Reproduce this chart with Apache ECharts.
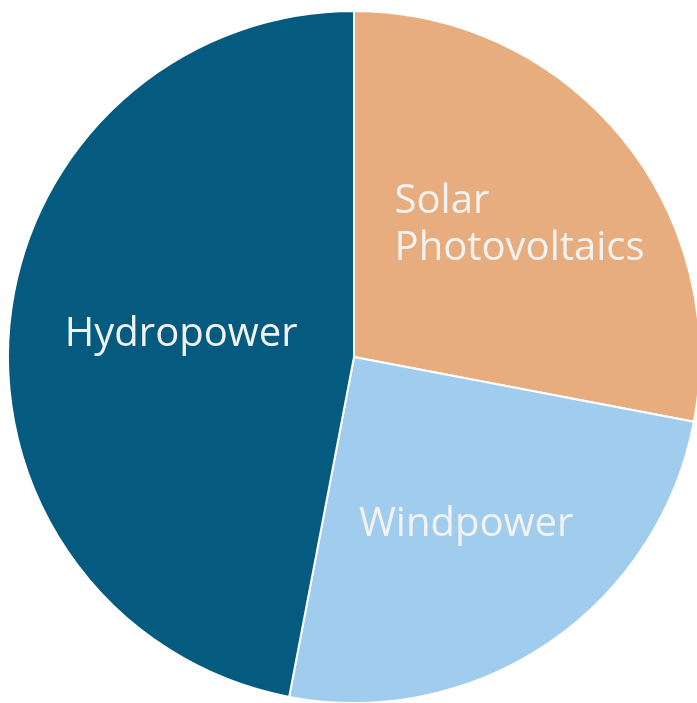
<!DOCTYPE html>
<html>
<head>
<meta charset="utf-8">
<style>
  html, body { margin: 0; padding: 0; background: #ffffff; }
  #chart { width: 697px; height: 703px; }
</style>
<script src="https://cdn.jsdelivr.net/npm/echarts@6/dist/echarts.min.js"></script>
</head>
<body>
<div id="chart"></div>
<script>
// Share of renewable generation by source (percent)
const categories = ['Solar\nPhotovoltaics', 'Windpower', 'Hydropower'];
const shares = [28, 25, 47];
const colors = ['#e8ad7e', '#a0ccee', '#045b7f'];
// left-aligned label nudges relative to each slice's inner anchor point
const labelOffsets = [[-95, -20], [-94, 22], [-114, -6]];

const chart = echarts.init(document.getElementById('chart'), null, { renderer: 'canvas' });

chart.setOption({
  animation: false,
  series: [{
    type: 'pie',
    center: [354, 357],
    radius: [0, 346],
    startAngle: 90,
    clockwise: true,
    avoidLabelOverlap: false,
    itemStyle: { borderColor: '#ffffff', borderWidth: 2 },
    label: {
      show: true,
      position: 'inside',
      color: '#f2f2f2',
      fontFamily: 'Open Sans',
      fontSize: 40,
      lineHeight: 47,
      formatter: '{b}'
    },
    labelLayout: function (params) {
      const o = labelOffsets[params.dataIndex];
      return { align: 'left', dx: o[0], dy: o[1] };
    },
    labelLine: { show: false },
    emphasis: { disabled: true },
    data: categories.map((name, i) => ({
      name: name,
      value: shares[i],
      itemStyle: { color: colors[i] }
    }))
  }]
});
</script>
</body>
</html>
